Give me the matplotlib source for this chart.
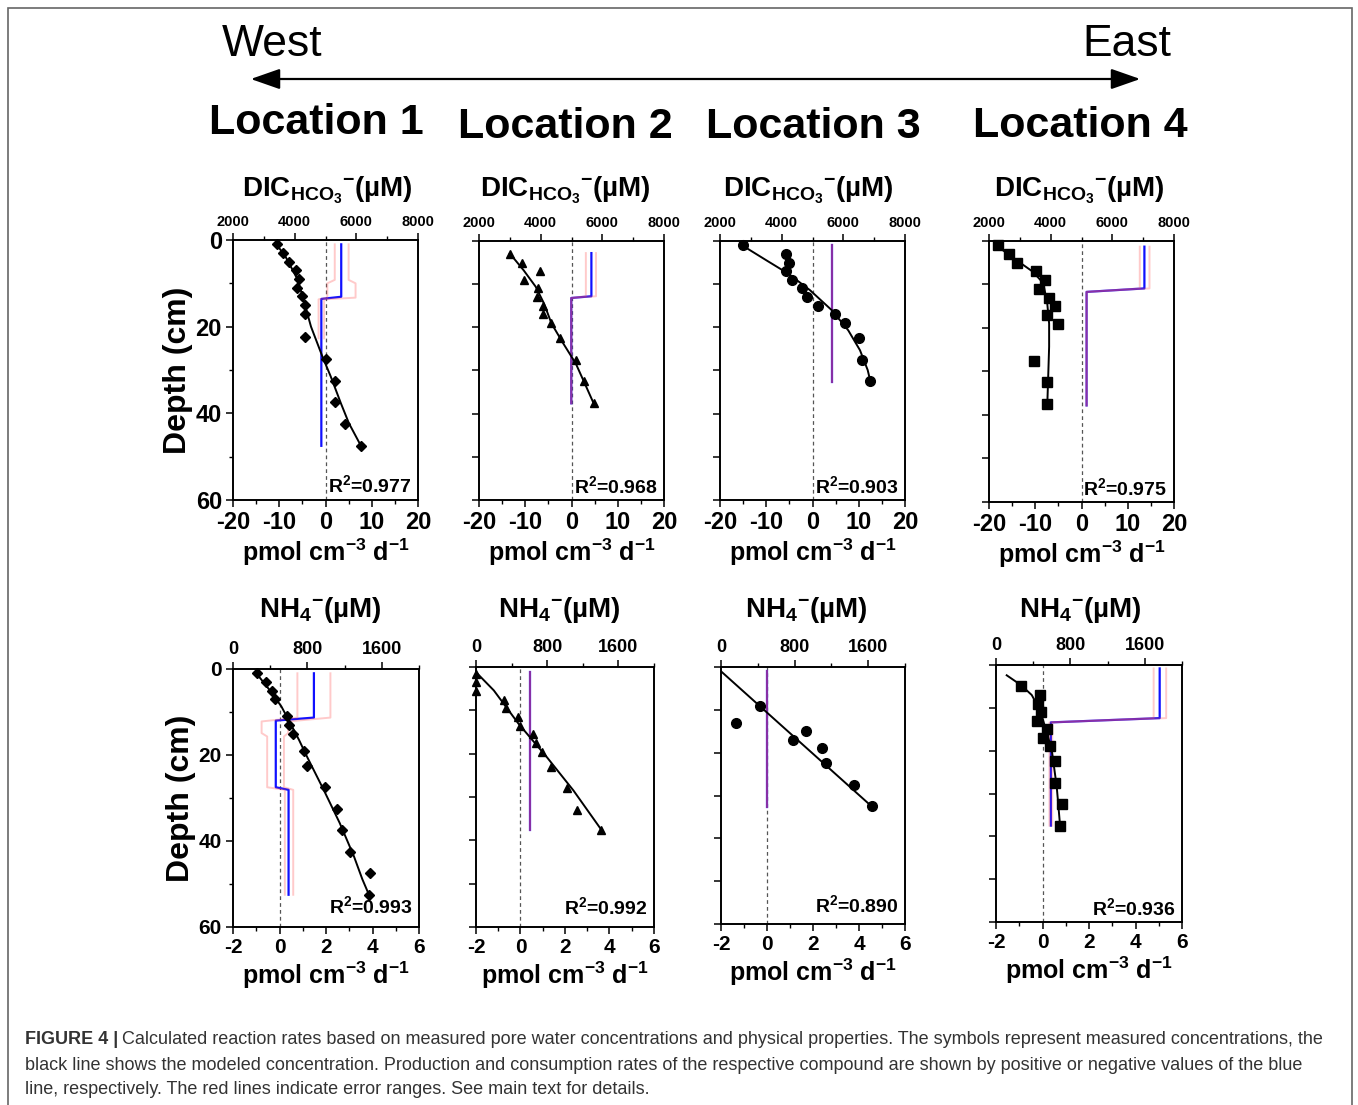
import matplotlib.pyplot as plt
from matplotlib.patches import Rectangle, FancyArrowPatch
from matplotlib.ticker import MultipleLocator
from matplotlib import font_manager

plt.rcParams['font.family'] = 'Liberation Sans'
plt.rcParams['font.weight'] = 'bold'
plt.rcParams['axes.unicode_minus'] = False
plt.rcParams['mathtext.fontset'] = 'custom'
plt.rcParams['mathtext.rm'] = 'Liberation Sans'
plt.rcParams['mathtext.bf'] = 'Liberation Sans:bold'
plt.rcParams['mathtext.it'] = 'Liberation Sans:italic'

# ---- data (depth in cm, concentration in uM, rate in pmol cm-3 d-1) ----
locations = ['Location 1', 'Location 2', 'Location 3', 'Location 4']
r2_values = ['0.977', '0.968', '0.903', '0.975', '0.993', '0.992', '0.890', '0.936']

# DIC, location 1
dic1_depth = [1, 3, 5, 7, 9, 11, 13, 15, 17, 22.5, 27.5, 32.5, 37.5, 42.5, 47.5]
dic1_conc = [3420, 3630, 3810, 4040, 4150, 4070, 4240, 4320, 4320, 4320, 5030, 5310, 5300, 5630, 6150]
dic1_fit_depth = [1.1, 3.8, 6.2, 9.2, 13.1, 20, 26.9, 31.5, 37.7, 42.3, 47.5]
dic1_fit_conc = [3420, 3700, 3880, 4100, 4260, 4530, 4900, 5170, 5500, 5760, 6150]
dic1_rate_depth = [1, 13.1, 13.6, 47.5]
dic1_rate = [3.4, 3.4, -0.9, -0.9]
dic1_err_depth = [1, 9.2, 10, 13.3, 13.7, 22.7]
dic1_err_lo = [2.0, 2.0, 0.4, 0.4, -1.5, -1.5]
dic1_err_hi = [5.0, 5.0, 6.5, 6.5, -0.3, -0.3]

# DIC, location 2
dic2_depth = [3, 5, 7, 9, 11, 13, 15, 17, 19, 22.5, 27.5, 32.5, 37.5]
dic2_conc = [3000, 3410, 3970, 3450, 3920, 3890, 4080, 4060, 4320, 4620, 5140, 5420, 5730]
dic2_fit_depth = [2.9, 6.8, 10.6, 14.5, 19.1, 23.7, 28.4, 33.0, 37.8]
dic2_fit_conc = [3000, 3450, 3840, 4110, 4350, 4730, 5140, 5430, 5730]
dic2_rate_depth = [2.8, 12.8, 13.2, 37.6]
dic2_rate = [4.3, 4.3, -0.05, -0.05]
dic2_err_depth = [2.8, 12.8, 13.2, 37.6]
dic2_err_lo = [3.1, 3.1, -0.05, -0.05]
dic2_err_hi = [5.3, 5.3, -0.05, -0.05]

# DIC, location 3
dic3_depth = [1, 3, 5, 7, 9, 11, 13, 15, 17, 19, 22.5, 27.5, 32.5]
dic3_conc = [2740, 4140, 4230, 4140, 4320, 4670, 4830, 5190, 5720, 6070, 6510, 6600, 6880]
dic3_fit_depth = [1.1, 4.5, 7.6, 11.4, 16.0, 20.7, 25.3, 29.9, 32.6]
dic3_fit_conc = [2740, 3510, 4220, 4920, 5620, 6160, 6540, 6790, 6880]
dic3_rate_depth = [1, 32.7]
dic3_rate = [4.25, 4.25]
dic3_err_depth = [1, 32.7]
dic3_err_lo = [4.25, 4.25]
dic3_err_hi = [4.25, 4.25]

# DIC, location 4
dic4_depth = [1, 3, 5, 7, 9, 11, 13, 15, 17, 19, 27.5, 32.5, 37.5]
dic4_conc = [2290, 2650, 2910, 3520, 3800, 3610, 3960, 4150, 3890, 4230, 3450, 3890, 3890]
dic4_fit_depth = [1.3, 4.4, 7.1, 9.7, 14.4, 19.0, 24.3, 31.2, 37.7]
dic4_fit_conc = [2290, 2890, 3430, 3760, 3890, 3950, 3950, 3920, 3890]
dic4_rate_depth = [1.3, 10.9, 11.7, 37.8]
dic4_rate = [13.6, 13.6, 1.1, 1.1]
dic4_err_depth = [1.3, 10.9, 11.7, 37.8]
dic4_err_lo = [12.6, 12.6, 1.1, 1.1]
dic4_err_hi = [14.7, 14.7, 1.1, 1.1]

# NH4, location 1
nh41_depth = [1, 3, 5, 7, 11, 13, 15, 19, 22.5, 27.5, 32.5, 37.5, 42.5, 47.5, 52.5]
nh41_conc = [258, 351, 423, 452, 581, 602, 645, 760, 796, 989, 1118, 1168, 1262, 1470, 1462]
nh41_fit_depth = [1.0, 4.9, 8.7, 12.6, 16.5, 20.4, 28.1, 35.8, 43.6, 48.9, 52.5]
nh41_fit_conc = [251, 394, 520, 616, 710, 796, 975, 1147, 1301, 1391, 1462]
nh41_rate_depth = [1, 11.3, 12.0, 27.5, 28.1, 52.5]
nh41_rate = [1.48, 1.48, -0.16, -0.16, 0.39, 0.39]
nh41_err_depth = [1, 11.3, 12.2, 14.9, 15.7, 27.5, 28.1, 52.5]
nh41_err_lo = [0.77, 0.77, -0.77, -0.77, -0.53, -0.53, 0.23, 0.23]
nh41_err_hi = [2.19, 2.19, 0.37, 0.37, 0.19, 0.19, 0.59, 0.59]

# NH4, location 2
nh42_depth = [1.5, 3.5, 5.5, 7.5, 9.5, 11.5, 13.5, 15.5, 17.5, 19.5, 23, 28, 33, 37.7]
nh42_conc = [0, 0, 0, 310, 333, 475, 490, 639, 677, 737, 841, 1021, 1133, 1402]
nh42_fit_depth = [1.2, 5.4, 13.1, 20.8, 28.5, 37.7]
nh42_fit_conc = [0, 200, 478, 796, 1095, 1413]
nh42_rate_depth = [1.2, 37.7]
nh42_rate = [0.43, 0.43]
nh42_err_depth = [1.2, 37.7]
nh42_err_lo = [0.43, 0.43]
nh42_err_hi = [0.43, 0.43]

# NH4, location 3
nh43_depth = [13, 9, 17, 15, 19, 22.5, 27.5, 32.5]
nh43_conc = [166, 426, 780, 924, 1094, 1141, 1444, 1646]
nh43_fit_depth = [1.0, 10.6, 32.7]
nh43_fit_conc = [0, 498, 1646]
nh43_rate_depth = [1.0, 32.7]
nh43_rate = [0.0, 0.0]
nh43_err_depth = [1.0, 32.7]
nh43_err_lo = [0.0, 0.0]
nh43_err_hi = [0.0, 0.0]

# NH4, location 4
nh44_depth = [5, 7, 9, 11, 13, 15, 17, 19, 22.5, 27.5, 32.5, 37.5]
nh44_conc = [269, 473, 452, 481, 438, 552, 509, 581, 638, 638, 707, 689]
nh44_fit_depth = [2.4, 4.7, 7.0, 10.5, 15.2, 19.8, 28.4, 37.5]
nh44_fit_conc = [115, 269, 384, 473, 538, 599, 653, 689]
nh44_rate_depth = [0.8, 12.4, 13.4, 37.5]
nh44_rate = [5.04, 5.04, 0.36, 0.36]
nh44_err_depth = [0.8, 12.4, 13.4, 37.5]
nh44_err_lo = [4.78, 4.78, 0.30, 0.30]
nh44_err_hi = [5.32, 5.32, 0.42, 0.42]

W, H = 1358, 1105
fig = plt.figure(figsize=(W / 100, H / 100), dpi=100)


def frac(l, t, r, b):
    return [l / W, 1 - b / H, (r - l) / W, (b - t) / H]


def panel(box, row, conc, depth, fit_conc, fit_depth, rate_depth, rate,
          err_depth, err_lo, err_hi, marker, ms, r2, r2_y, first):
    ax = fig.add_axes(frac(*box))
    ax2 = ax.twiny()
    # rates on bottom axis
    ax.axvline(0, color='#555555', ls=(0, (3, 2.5)), lw=0.9)
    ax.plot(rate, rate_depth, color='#1010ff', lw=1.6)
    ax.plot(err_lo, err_depth, color='#ff5050', alpha=0.3, lw=1.4)
    ax.plot(err_hi, err_depth, color='#ff5050', alpha=0.3, lw=1.4)
    # concentrations on top axis
    ax2.plot(fit_conc, fit_depth, color='black', lw=1.4)
    ax2.plot(conc, depth, ls='none', marker=marker, ms=ms, color='black', clip_on=False)

    if row == 0:
        ax.set_xlim(-20, 20)
        ax.xaxis.set_major_locator(MultipleLocator(10))
        ax.xaxis.set_minor_locator(MultipleLocator(5))
        ax2.set_xlim(2000, 8000)
        ax2.xaxis.set_major_locator(MultipleLocator(2000))
        ax2.xaxis.set_minor_locator(MultipleLocator(1000))
        bsize, tsize, ysize = 17, 10.5, 17
    else:
        ax.set_xlim(-2, 6)
        ax.xaxis.set_major_locator(MultipleLocator(2))
        ax.xaxis.set_minor_locator(MultipleLocator(1))
        ax2.set_xlim(0, 2000)
        ax2.xaxis.set_major_locator(MultipleLocator(800))
        ax2.xaxis.set_minor_locator(MultipleLocator(400))
        bsize, tsize, ysize = 15, 13, 15
    ax.set_ylim(60, 0)
    if first:
        ax.yaxis.set_major_locator(MultipleLocator(20))
        ax.yaxis.set_minor_locator(MultipleLocator(10))
        ax.set_ylabel('Depth (cm)', fontsize=23, fontweight='bold', labelpad=2)
    else:
        ax.yaxis.set_major_locator(MultipleLocator(10))
        ax.tick_params(axis='y', labelleft=False)
    ax.tick_params(which='major', direction='out', length=5, width=1.1)
    ax.tick_params(which='minor', direction='out', length=3, width=1.0)
    ax2.tick_params(which='major', direction='out', length=5, width=1.1)
    ax2.tick_params(which='minor', direction='out', length=3, width=1.0)
    ax.tick_params(axis='x', labelsize=bsize, pad=3)
    ax.tick_params(axis='y', labelsize=ysize, pad=3)
    ax2.tick_params(axis='x', labelsize=tsize, pad=3)
    for sp in list(ax.spines.values()) + list(ax2.spines.values()):
        sp.set_linewidth(1.2)
    ax.set_xlabel(r'pmol cm$^{\mathbf{-3}}$ d$^{\mathbf{-1}}$', fontsize=18,
                  fontweight='bold', labelpad=2)
    ax.text(0.965, r2_y, r'R$^{\mathbf{2}}$=' + r2, transform=ax.transAxes, ha='right',
            va='bottom', fontsize=14, fontweight='bold')
    return ax


top_boxes = [(233, 240, 418, 500), (479, 241, 664, 500), (720, 241, 905, 500), (989, 241, 1174, 502)]
bot_boxes = [(233, 669, 419, 927), (476, 667, 654, 927), (721, 667, 905, 924), (996, 665, 1182, 922)]

dic = [
    (dic1_conc, dic1_depth, dic1_fit_conc, dic1_fit_depth, dic1_rate_depth, dic1_rate, dic1_err_depth, dic1_err_lo, dic1_err_hi),
    (dic2_conc, dic2_depth, dic2_fit_conc, dic2_fit_depth, dic2_rate_depth, dic2_rate, dic2_err_depth, dic2_err_lo, dic2_err_hi),
    (dic3_conc, dic3_depth, dic3_fit_conc, dic3_fit_depth, dic3_rate_depth, dic3_rate, dic3_err_depth, dic3_err_lo, dic3_err_hi),
    (dic4_conc, dic4_depth, dic4_fit_conc, dic4_fit_depth, dic4_rate_depth, dic4_rate, dic4_err_depth, dic4_err_lo, dic4_err_hi),
]
nh4 = [
    (nh41_conc, nh41_depth, nh41_fit_conc, nh41_fit_depth, nh41_rate_depth, nh41_rate, nh41_err_depth, nh41_err_lo, nh41_err_hi),
    (nh42_conc, nh42_depth, nh42_fit_conc, nh42_fit_depth, nh42_rate_depth, nh42_rate, nh42_err_depth, nh42_err_lo, nh42_err_hi),
    (nh43_conc, nh43_depth, nh43_fit_conc, nh43_fit_depth, nh43_rate_depth, nh43_rate, nh43_err_depth, nh43_err_lo, nh43_err_hi),
    (nh44_conc, nh44_depth, nh44_fit_conc, nh44_fit_depth, nh44_rate_depth, nh44_rate, nh44_err_depth, nh44_err_lo, nh44_err_hi),
]
markers = [('D', 5), ('^', 6), ('o', 7), ('s', 6.5)]
r2_top_y = [0.015, 0.01, 0.01, 0.01]
r2_bot_y = [0.04, 0.035, 0.03, 0.01]

for i in range(4):
    panel(top_boxes[i], 0, *dic[i], markers[i][0], markers[i][1], r2_values[i], r2_top_y[i], i == 0)
    panel(bot_boxes[i], 1, *nh4[i], markers[i][0], markers[i][1], r2_values[i + 4], r2_bot_y[i], i == 0)

# panel titles
dic_title = r'DIC$_{\mathbf{HCO_3}}$$^{\mathbf{-}}$(µM)'
nh4_title = r'NH$_{\mathbf{4}}$$^{\mathbf{-}}$(µM)'
for x in [327, 565, 808, 1079]:
    fig.text(x / W, 1 - 190 / H, dic_title, ha='center', va='center', fontsize=20, fontweight='bold')
for x in [320, 559, 806, 1080]:
    fig.text(x / W, 1 - 610 / H, nh4_title, ha='center', va='center', fontsize=20, fontweight='bold')

# location headers and west-east arrow
for name, x, y in zip(locations, [316, 565, 813, 1080], [123, 127, 127, 126]):
    fig.text(x / W, 1 - y / H, name, ha='center', va='center', fontsize=31, fontweight='bold')
fig.text(272 / W, 1 - 44 / H, 'West', ha='center', va='center', fontsize=32, fontweight='normal')
fig.text(1127 / W, 1 - 44 / H, 'East', ha='center', va='center', fontsize=32, fontweight='normal')
fig.add_artist(FancyArrowPatch((248 / W, 1 - 79 / H), (1143 / W, 1 - 79 / H), transform=fig.transFigure,
                               arrowstyle='<|-|>,head_length=1.0,head_width=0.35', mutation_scale=18,
                               lw=1.6, color='black'))

# outer frame
fig.add_artist(Rectangle((8 / W, -0.01), (1352 - 8) / W, 1 - 8 / H + 0.01, transform=fig.transFigure,
                         fill=False, ec='#666666', lw=1.2))

# caption
names = {f.name for f in font_manager.fontManager.ttflist}
cap_font = 'Liberation Sans Narrow' if 'Liberation Sans Narrow' in names else 'Liberation Sans'
cap_lines = [
    'Calculated reaction rates based on measured pore water concentrations and physical properties. The symbols represent measured concentrations, the',
    'black line shows the modeled concentration. Production and consumption rates of the respective compound are shown by positive or negative values of the blue',
    'line, respectively. The red lines indicate error ranges. See main text for details.',
]
head = fig.text(25 / W, 1 - 1040 / H, 'FIGURE 4 |', ha='left', va='center', fontsize=13,
                fontweight='bold', family=cap_font, color='#333333')
fig.canvas.draw()
bb = head.get_window_extent()
fig.text(bb.x1 / W + 4 / W, 1 - 1040 / H, cap_lines[0], ha='left', va='center', fontsize=13,
         fontweight='normal', family=cap_font, color='#333333')
fig.text(25 / W, 1 - 1065 / H, cap_lines[1], ha='left', va='center', fontsize=13,
         fontweight='normal', family=cap_font, color='#333333')
fig.text(25 / W, 1 - 1090 / H, cap_lines[2], ha='left', va='center', fontsize=13,
         fontweight='normal', family=cap_font, color='#333333')

fig.savefig('out.png', dpi=100)
